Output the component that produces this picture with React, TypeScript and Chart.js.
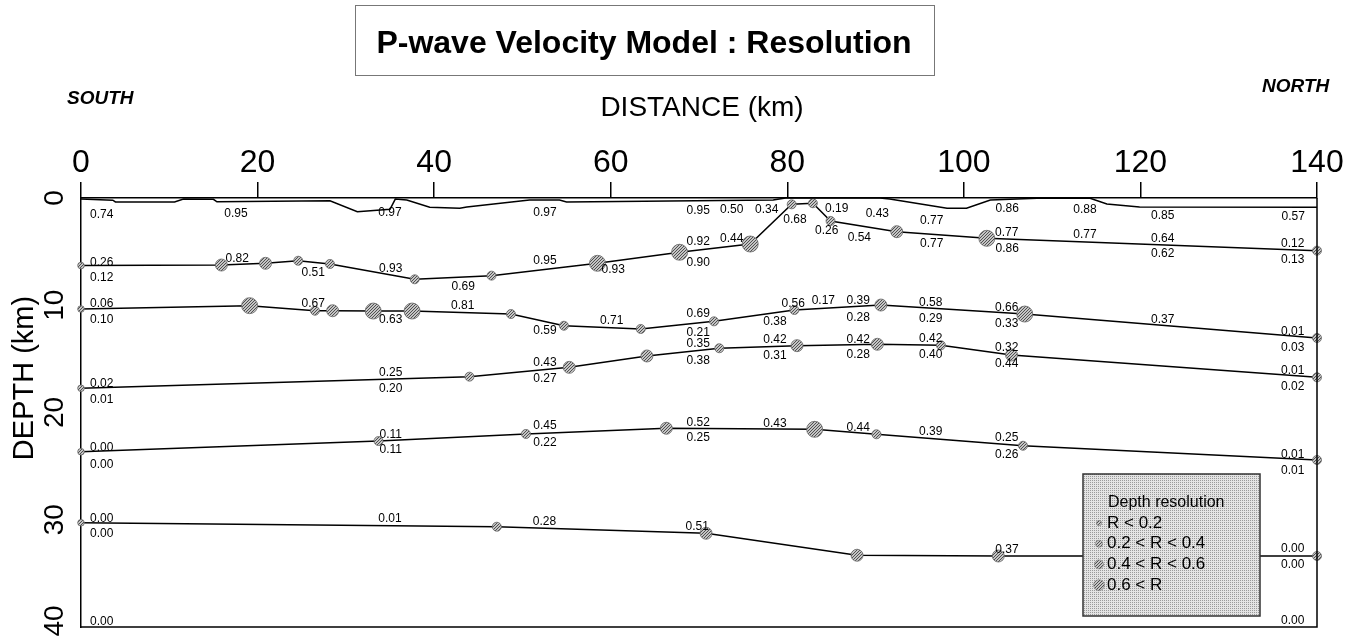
import React, { useEffect, useRef } from "react";
import { Chart, registerables } from "chart.js";

Chart.register(...registerables);

const FAMILY = "'Liberation Sans', Arial, Helvetica, sans-serif";

// Axis ticks
const X_TICKS = [0, 20, 40, 60, 80, 100, 120, 140];
const DEPTH_TICKS = [0, 10, 20, 30, 40];

// Thin near-surface interface (no nodes)
const if1X = [0, 3.6, 3.9, 10.6, 11.6, 15.0, 15.4, 28.2, 31.3, 35.0, 35.6, 36.9, 39.5, 42.9, 43.7, 50.8, 54.2, 55.0, 78.4, 79.8, 90.5, 91.6, 98.1, 100.3, 103.0, 108.3, 114.3, 116.2, 119.9, 140];
const if1Depth = [0.1, 0.2, 0.37, 0.37, 0.1, 0.12, 0.35, 0.25, 1.28, 1.05, 0.1, 0.19, 0.87, 0.96, 0.84, 0.19, 0.19, 0.37, 0.19, 0, 0, 0.1, 0.96, 0.96, 0.19, 0.03, 0.03, 0.56, 0.84, 0.87];

// Interfaces with nodes; class = depth-resolution class (0: R<0.2 ... 3: 0.6<R)
const if2X = [0, 15.9, 20.9, 24.6, 28.2, 37.8, 46.5, 58.5, 67.8, 75.8, 80.5, 82.9, 84.9, 92.4, 102.6, 140];
const if2Depth = [6.3, 6.25, 6.09, 5.85, 6.15, 7.58, 7.24, 6.09, 5.06, 4.29, 0.59, 0.49, 2.14, 3.14, 3.76, 4.91];
const if2Class = [0, 2, 2, 1, 1, 1, 1, 3, 3, 3, 1, 1, 1, 2, 3, 1];

const if3X = [0, 19.1, 26.5, 28.5, 33.1, 37.5, 48.7, 54.7, 63.4, 71.7, 80.8, 90.6, 106.9, 140];
const if3Depth = [10.35, 10.04, 10.51, 10.51, 10.54, 10.54, 10.82, 11.91, 12.21, 11.5, 10.44, 9.98, 10.82, 13.05];
const if3Class = [0, 3, 1, 2, 3, 3, 1, 1, 1, 1, 1, 2, 3, 1];

const if4X = [0, 44.0, 55.3, 64.1, 72.3, 81.1, 90.2, 97.4, 105.4, 140];
const if4Depth = [17.74, 16.66, 15.79, 14.73, 14.01, 13.77, 13.64, 13.73, 14.64, 16.72];
const if4Class = [0, 1, 2, 2, 1, 2, 2, 1, 2, 1];

const if5X = [0, 33.7, 50.4, 66.3, 83.1, 90.1, 106.7, 140];
const if5Depth = [23.66, 22.66, 22.0, 21.47, 21.57, 22.03, 23.1, 24.43];
const if5Class = [0, 1, 1, 2, 3, 1, 1, 1];

const if6X = [0, 47.1, 70.8, 87.9, 103.9, 140];
const if6Depth = [30.28, 30.65, 31.26, 33.31, 33.38, 33.38];
const if6Class = [0, 1, 2, 2, 2, 1];

// Resolution values printed on the section: [distance, depth, text]
const valueLabels: [number, number, string][] = [
  [2.34, 1.59, "0.74"], [17.56, 1.43, "0.95"], [35.0, 1.37, "0.97"], [52.56, 1.37, "0.97"],
  [69.92, 1.21, "0.95"], [73.7, 1.05, "0.50"], [77.67, 1.12, "0.34"], [80.87, 2.05, "0.68"],
  [85.6, 0.96, "0.19"], [90.2, 1.43, "0.43"], [96.36, 2.12, "0.77"], [104.92, 0.96, "0.86"],
  [113.72, 1.05, "0.88"], [122.52, 1.65, "0.85"], [137.31, 1.74, "0.57"],

  [2.34, 6.03, "0.26"], [2.34, 7.39, "0.12"], [17.7, 5.62, "0.82"], [26.31, 6.97, "0.51"],
  [35.08, 6.55, "0.93"], [43.3, 8.27, "0.69"], [52.56, 5.87, "0.95"], [60.29, 6.71, "0.93"],
  [69.92, 4.07, "0.92"], [69.92, 6.03, "0.90"], [73.7, 3.76, "0.44"], [84.46, 3.08, "0.26"],
  [88.16, 3.66, "0.54"], [96.36, 4.22, "0.77"], [104.85, 3.24, "0.77"], [104.92, 4.69, "0.86"],
  [113.72, 3.45, "0.77"], [122.52, 3.76, "0.64"], [122.52, 5.22, "0.62"], [137.24, 4.29, "0.12"],
  [137.24, 5.72, "0.13"],

  [2.34, 9.88, "0.06"], [2.34, 11.38, "0.10"], [26.31, 9.88, "0.67"], [35.08, 11.38, "0.63"],
  [43.23, 10.02, "0.81"], [52.56, 12.4, "0.59"], [60.11, 11.47, "0.71"], [69.92, 10.82, "0.69"],
  [69.92, 12.52, "0.21"], [80.68, 9.82, "0.56"], [84.08, 9.56, "0.17"], [88.04, 9.56, "0.39"],
  [78.61, 11.53, "0.38"], [88.04, 11.12, "0.28"], [96.24, 9.76, "0.58"], [96.24, 11.22, "0.29"],
  [104.85, 10.19, "0.66"], [104.85, 11.68, "0.33"], [122.52, 11.31, "0.37"], [137.24, 12.47, "0.01"],
  [137.24, 13.92, "0.03"],

  [2.34, 17.28, "0.02"], [2.34, 18.77, "0.01"], [35.08, 16.29, "0.25"], [35.08, 17.74, "0.20"],
  [52.56, 15.32, "0.43"], [52.56, 16.88, "0.27"], [69.92, 13.61, "0.35"], [69.92, 15.17, "0.38"],
  [78.61, 13.24, "0.42"], [78.61, 14.73, "0.31"], [88.04, 13.17, "0.42"], [88.04, 14.64, "0.28"],
  [96.24, 13.15, "0.42"], [96.24, 14.57, "0.40"], [104.85, 13.92, "0.32"], [104.85, 15.41, "0.44"],
  [137.24, 16.1, "0.01"], [137.24, 17.59, "0.02"],

  [2.34, 23.28, "0.00"], [2.34, 24.83, "0.00"], [35.08, 22.1, "0.11"], [35.08, 23.5, "0.11"],
  [52.56, 21.23, "0.45"], [52.56, 22.78, "0.22"], [69.92, 20.91, "0.52"], [69.92, 22.35, "0.25"],
  [78.61, 21.01, "0.43"], [88.04, 21.38, "0.44"], [96.24, 21.79, "0.39"], [104.85, 22.35, "0.25"],
  [104.85, 23.9, "0.26"], [137.24, 23.96, "0.01"], [137.24, 25.43, "0.01"],

  [2.34, 29.87, "0.00"], [2.34, 31.33, "0.00"], [35.0, 29.93, "0.01"], [52.5, 30.21, "0.28"],
  [69.8, 30.65, "0.51"], [104.89, 32.82, "0.37"], [137.24, 32.73, "0.00"], [137.24, 34.15, "0.00"],
  [2.34, 39.5, "0.00"], [137.24, 39.41, "0.00"],
];

const TITLE = "P-wave Velocity Model : Resolution";
const X_TITLE = "DISTANCE (km)";
const Y_TITLE = "DEPTH (km)";
const LEGEND_TITLE = "Depth resolution";
const LEGEND_ITEMS = ["R < 0.2", "0.2 < R < 0.4", "0.4 < R < 0.6", "0.6 < R"];

const NODE_RADII = [3.3, 4.5, 6, 8];
const LEGEND_RADII = [2.6, 3.5, 4.5, 5.4];

function makeHatch(): CanvasPattern | string {
  const c = document.createElement("canvas");
  c.width = 3;
  c.height = 3;
  const g = c.getContext("2d");
  if (!g) return "#999";
  g.fillStyle = "#c4c4c4";
  g.fillRect(0, 0, 3, 3);
  g.fillStyle = "#505050";
  // diagonal stripe "/" one pixel wide
  g.fillRect(2, 0, 1, 1);
  g.fillRect(1, 1, 1, 1);
  g.fillRect(0, 2, 1, 1);
  return g.createPattern(c, "repeat") || "#999";
}

function makeStipple(): CanvasPattern | string {
  const c = document.createElement("canvas");
  c.width = 2;
  c.height = 2;
  const g = c.getContext("2d");
  if (!g) return "#ccc";
  g.fillStyle = "#e4e4e4";
  g.fillRect(0, 0, 2, 2);
  g.fillStyle = "#9a9a9a";
  g.fillRect(0, 0, 1, 1);
  return g.createPattern(c, "repeat") || "#ccc";
}

export default function App() {
  const ref = useRef<HTMLCanvasElement | null>(null);

  useEffect(() => {
    document.body.style.margin = "0";
    const canvas = ref.current;
    if (!canvas) return;
    const hatch = makeHatch();
    const stipple = makeStipple();

    const mk = (xs: number[], ds: number[], cls?: number[]) => ({
      type: "line" as const,
      data: xs.map((x, i) => ({ x, y: ds[i] })),
      borderColor: "#000",
      borderWidth: 1.5,
      pointRadius: cls ? cls.map((c) => NODE_RADII[c]) : 0,
      pointHoverRadius: cls ? cls.map((c) => NODE_RADII[c]) : 0,
      pointBackgroundColor: hatch,
      pointBorderColor: "#666",
      pointBorderWidth: 0.8,
      tension: 0,
      fill: false,
      clip: false as const,
    });

    const decor = {
      id: "decor",
      afterDatasetsDraw(chart: any) {
        const { ctx, chartArea: ca, scales } = chart;
        const xs = scales.x;
        const ys = scales.y;
        ctx.save();
        ctx.strokeStyle = "#000";
        ctx.lineWidth = 1.5;
        ctx.beginPath();
        ctx.moveTo(ca.right, ca.top);
        ctx.lineTo(ca.right, ca.bottom);
        ctx.lineTo(ca.left, ca.bottom);
        ctx.stroke();

        ctx.fillStyle = "#000";
        ctx.font = `12px ${FAMILY}`;
        ctx.textAlign = "center";
        ctx.textBaseline = "middle";
        for (const [x, d, t] of valueLabels) {
          ctx.fillText(t, xs.getPixelForValue(x), ys.getPixelForValue(d));
        }
        ctx.restore();
      },
      afterDraw(chart: any) {
        const { ctx, chartArea: ca, scales } = chart;
        const ys = scales.y;
        ctx.save();
        ctx.fillStyle = "#000";

        // depth tick labels (rotated)
        ctx.font = `28px ${FAMILY}`;
        ctx.textAlign = "center";
        ctx.textBaseline = "alphabetic";
        for (const v of DEPTH_TICKS) {
          ctx.save();
          ctx.translate(ca.left - 18, Math.min(ys.getPixelForValue(v), 621));
          ctx.rotate(-Math.PI / 2);
          ctx.fillText(String(v), 0, 0);
          ctx.restore();
        }
        // depth axis title
        ctx.save();
        ctx.font = `29px ${FAMILY}`;
        ctx.translate(33, 378);
        ctx.rotate(-Math.PI / 2);
        ctx.fillText(Y_TITLE, 0, 0);
        ctx.restore();

        // distance title
        ctx.font = `28px ${FAMILY}`;
        ctx.textAlign = "center";
        ctx.fillText(X_TITLE, 702, 116);

        // title box
        ctx.strokeStyle = "#777";
        ctx.lineWidth = 1;
        ctx.strokeRect(355.5, 5.5, 579, 70);
        ctx.font = `bold 32px ${FAMILY}`;
        ctx.fillText(TITLE, 644, 53);

        // SOUTH / NORTH
        ctx.font = `italic bold 19px ${FAMILY}`;
        ctx.textAlign = "left";
        ctx.fillText("SOUTH", 67, 104);
        ctx.fillText("NORTH", 1262, 92);

        // legend box
        ctx.fillStyle = stipple as any;
        ctx.fillRect(1083, 474, 177, 142);
        ctx.strokeStyle = "#333";
        ctx.lineWidth = 1.5;
        ctx.strokeRect(1083, 474, 177, 142);
        ctx.fillStyle = "#000";
        ctx.font = `16px ${FAMILY}`;
        ctx.textAlign = "left";
        ctx.textBaseline = "middle";
        ctx.fillText(LEGEND_TITLE, 1108, 503);
        LEGEND_ITEMS.forEach((t, i) => {
          const cy = 523 + i * 20.7;
          ctx.beginPath();
          ctx.arc(1099, cy, LEGEND_RADII[i], 0, Math.PI * 2);
          ctx.fillStyle = hatch as any;
          ctx.fill();
          ctx.strokeStyle = "#777";
          ctx.lineWidth = 0.6;
          ctx.stroke();
          ctx.fillStyle = "#000";
          ctx.font = `17px ${FAMILY}`;
          ctx.fillText(t, 1107, cy);
        });
        ctx.restore();
      },
    };

    const chart = new Chart(canvas, {
      type: "line",
      data: {
        datasets: [
          mk(if1X, if1Depth),
          mk(if2X, if2Depth, if2Class),
          mk(if3X, if3Depth, if3Class),
          mk(if4X, if4Depth, if4Class),
          mk(if5X, if5Depth, if5Class),
          mk(if6X, if6Depth, if6Class),
        ] as any,
      },
      options: {
        animation: false,
        responsive: false,
        devicePixelRatio: 1,
        events: [],
        layout: { padding: { left: 0, right: 47, top: 138, bottom: 12 } },
        plugins: {
          legend: { display: false },
          tooltip: { enabled: false },
          title: { display: false },
        },
        scales: {
          x: {
            type: "linear",
            position: "top",
            min: 0,
            max: 140,
            afterBuildTicks: (s: any) => {
              s.ticks = X_TICKS.map((v) => ({ value: v }));
            },
            ticks: {
              stepSize: 20,
              autoSkip: false,
              maxRotation: 0,
              padding: 0,
              color: "#000",
              font: { size: 32, family: FAMILY },
            },
            grid: {
              drawOnChartArea: false,
              drawTicks: true,
              tickLength: 16,
              color: "#000",
              lineWidth: 1.5,
            },
            border: { display: true, color: "#000", width: 1.5 },
            afterFit: (s: any) => {
              s.height = 60;
              s.paddingLeft = 0;
              s.paddingRight = 0;
            },
          },
          y: {
            type: "linear",
            position: "left",
            reverse: true,
            min: 0,
            max: 40,
            ticks: { display: false, stepSize: 10 },
            grid: { display: false },
            border: { display: true, color: "#000", width: 1.5 },
            afterFit: (s: any) => {
              s.width = 81;
              s.paddingTop = 0;
              s.paddingBottom = 0;
            },
          },
        },
      } as any,
      plugins: [decor],
    });

    return () => chart.destroy();
  }, []);

  return (
    <canvas
      ref={ref}
      width={1364}
      height={639}
      style={{ display: "block", position: "absolute", left: 0, top: 0 }}
    />
  );
}
